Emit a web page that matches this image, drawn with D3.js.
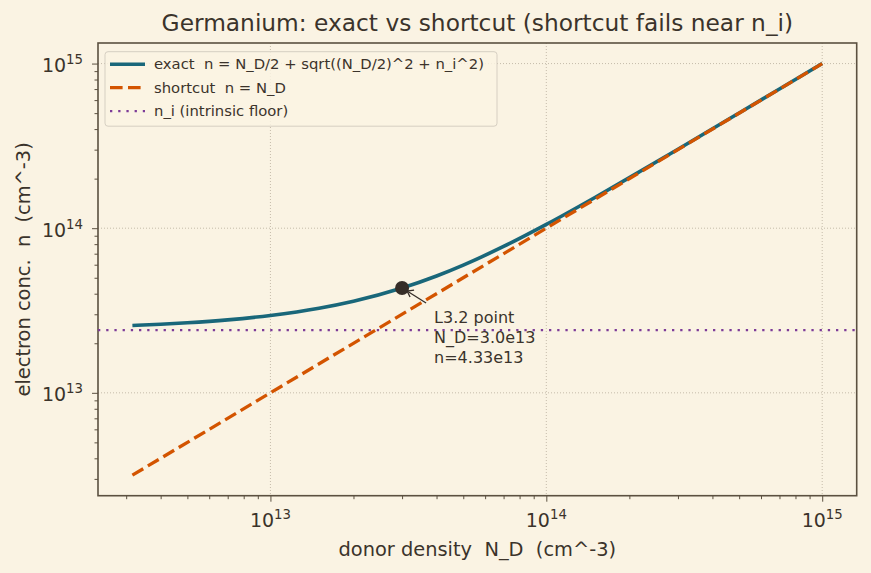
<!DOCTYPE html>
<html>
<head>
<meta charset="utf-8">
<script src="https://cdn.jsdelivr.net/npm/d3@7"></script>
<style>
  body { margin: 0; background: #faf3e3; }
  text { font-family: "DejaVu Sans", sans-serif; fill: #3b332b; white-space: pre; }
</style>
</head>
<body>
<div id="chart"></div>
<script>
// data
var donorDensity = [3.16e12, 4e12, 5e12, 7e12, 1e13, 1.5e13, 2e13, 3e13, 4e13, 5e13, 7e13,
  1e14, 1.5e14, 2e14, 3e14, 5e14, 7e14, 1e15];
var exactN = [2.563e13, 2.608e13, 2.663e13, 2.775e13, 2.952e13, 3.264e13, 3.6e13, 4.33e13,
  5.124e13, 5.966e13, 7.744e13, 1.0546e14, 1.5375e14, 2.0284e14, 3.0191e14, 5.0115e14,
  7.0082e14, 1.00058e15];
var shortcutN = [3.16e12, 1e15];
var shortcutND = [3.16e12, 1e15];
var intrinsic = 2.4e13;
var markPoint = [3.0e13, 4.33e13];
var decades = [1e13, 1e14, 1e15];
var legendLabels = ["exact  n = N_D/2 + sqrt((N_D/2)^2 + n_i^2)", "shortcut  n = N_D", "n_i (intrinsic floor)"];
var noteLines = ["L3.2 point", "N_D=3.0e13", "n=4.33e13"];

var svgWidth = 871, svgHeight = 573;
var margin = { top: 43, right: 14.3, bottom: 77.3, left: 98 };
var width = svgWidth - margin.left - margin.right;
var height = svgHeight - margin.top - margin.bottom;

var ink = "#5b5040";
var teal = "#19677a", orange = "#d35400", purple = "#7d3c98";
var dashed = "12.6,5.4", dotted = "2.3,5.9";

var svg = d3.select("#chart").append("svg")
  .attr("width", svgWidth).attr("height", svgHeight)
  .style("background", "#faf3e3");

var g = svg.append("g").attr("transform", `translate(${margin.left},${margin.top})`);

var x = d3.scaleLog().domain([Math.pow(10, 12.375), Math.pow(10, 15.125)]).range([0, width]);
var y = d3.scaleLog().domain([Math.pow(10, 12.375), Math.pow(10, 15.125)]).range([height, 0]);

// minor ticks
function minors(scale) {
  var out = [];
  for (var e = 12; e <= 15; e++) for (var m = 2; m <= 9; m++) {
    var v = m * Math.pow(10, e);
    if (v >= scale.domain()[0] && v <= scale.domain()[1]) out.push(v);
  }
  return out;
}

// grid
g.selectAll(".gx").data(decades).enter().append("line")
  .attr("x1", d => x(d)).attr("x2", d => x(d)).attr("y1", 0).attr("y2", height)
  .attr("stroke", "#b8ad9c").attr("stroke-width", 0.8).attr("stroke-dasharray", "1,2");
g.selectAll(".gy").data(decades).enter().append("line")
  .attr("y1", d => y(d)).attr("y2", d => y(d)).attr("x1", 0).attr("x2", width)
  .attr("stroke", "#b8ad9c").attr("stroke-width", 0.8).attr("stroke-dasharray", "1,2");

// axes
var xAxis = g.append("g").attr("transform", `translate(0,${height})`);
xAxis.call(d3.axisBottom(x).tickValues(decades).tickSize(6).tickFormat(""));
xAxis.append("g").call(d3.axisBottom(x).tickValues(minors(x)).tickSize(3.5).tickFormat(""));
var yAxis = g.append("g");
yAxis.call(d3.axisLeft(y).tickValues(decades).tickSize(6).tickFormat(""));
yAxis.append("g").call(d3.axisLeft(y).tickValues(minors(y)).tickSize(3.5).tickFormat(""));
g.selectAll(".domain").remove();
g.selectAll(".tick line").attr("stroke", ink).attr("stroke-width", 1);

function powLabel(sel, d) {
  var e = Math.round(Math.log10(d));
  sel.append("tspan").text("10");
  sel.append("tspan").attr("dy", -8).attr("font-size", 13.3).text(e);
}
decades.forEach(function(d) {
  g.append("text").attr("x", x(d)).attr("y", height + 31)
    .attr("text-anchor", "middle").attr("font-size", 19).call(powLabel, d);
  g.append("text").attr("x", -15).attr("y", y(d) + 8.4)
    .attr("text-anchor", "end").attr("font-size", 19).call(powLabel, d);
});

// frame
g.append("rect").attr("width", width).attr("height", height)
  .attr("fill", "none").attr("stroke", ink).attr("stroke-width", 1.6);

// lines
var line = d3.line().x(d => x(d[0])).y(d => y(d[1])).curve(d3.curveMonotoneX);

g.append("line")
  .attr("x1", 0).attr("x2", width).attr("y1", y(intrinsic)).attr("y2", y(intrinsic))
  .attr("stroke", purple).attr("stroke-width", 2.3).attr("stroke-dasharray", dotted);

g.append("path").datum(d3.zip(donorDensity, exactN)).attr("d", line)
  .attr("fill", "none").attr("stroke", teal).attr("stroke-width", 3.6);

g.append("path").datum(d3.zip(shortcutND, shortcutN)).attr("d", line)
  .attr("fill", "none").attr("stroke", orange).attr("stroke-width", 3.3)
  .attr("stroke-dasharray", dashed);

// marked point + annotation
var px = x(markPoint[0]), py = y(markPoint[1]);
g.append("circle").attr("cx", px).attr("cy", py).attr("r", 7).attr("fill", "#352d28");
var ax = px + 24, ay = py + 15;
g.append("line").attr("x1", ax).attr("y1", ay).attr("x2", px + 5).attr("y2", py + 3)
  .attr("stroke", "#352d28").attr("stroke-width", 1.3);
g.append("path")
  .attr("d", `M${px + 12},${py + 2} L${px + 5},${py + 3} L${px + 8},${py + 9}`)
  .attr("fill", "none").attr("stroke", "#352d28").attr("stroke-width", 1.3);
noteLines.forEach(function(t, i) {
  g.append("text").attr("x", px + 32).attr("y", py + 35 + i * 20)
    .attr("font-size", 16).text(t);
});

// legend
var lg = g.append("g").attr("transform", "translate(7,8.7)");
lg.append("rect").attr("width", 392).attr("height", 74.5).attr("rx", 3)
  .attr("fill", "#faf3e3").attr("fill-opacity", 0.85)
  .attr("stroke", "#d6cfc2").attr("stroke-width", 1);
var legendStyles = [
  { color: teal, w: 3.6, dash: null },
  { color: orange, w: 3.3, dash: dashed },
  { color: purple, w: 2.3, dash: dotted }
];
legendLabels.forEach(function(t, i) {
  var yy = 12.5 + i * 23.5;
  lg.append("line").attr("x1", 5).attr("x2", 40).attr("y1", yy).attr("y2", yy)
    .attr("stroke", legendStyles[i].color).attr("stroke-width", legendStyles[i].w)
    .attr("stroke-dasharray", legendStyles[i].dash);
  lg.append("text").attr("x", 49).attr("y", yy + 5.3).attr("font-size", 14.8).text(t);
});

// title and axis labels
svg.append("text").attr("x", margin.left + width / 2).attr("y", 31)
  .attr("text-anchor", "middle").attr("font-size", 23.3)
  .text("Germanium: exact vs shortcut (shortcut fails near n_i)");
svg.append("text").attr("x", margin.left + width / 2).attr("y", 556)
  .attr("text-anchor", "middle").attr("font-size", 19.4)
  .text("donor density  N_D  (cm^-3)");
svg.append("text").attr("transform", `translate(30,${margin.top + height / 2}) rotate(-90)`)
  .attr("text-anchor", "middle").attr("font-size", 19.4)
  .text("electron conc.  n  (cm^-3)");
</script>
</body>
</html>
